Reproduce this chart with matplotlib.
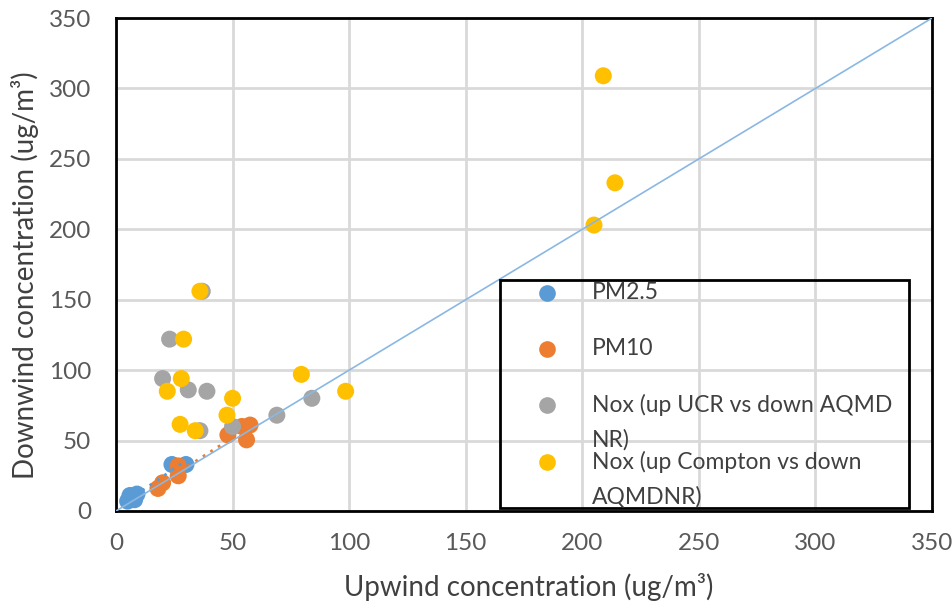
"""Upwind vs downwind concentration scatter (PM2.5, PM10, NOx) with 1:1 line."""

import numpy as np
import matplotlib
matplotlib.use("Agg")
import matplotlib.pyplot as plt
from matplotlib.lines import Line2D
from matplotlib.patches import Rectangle

plt.rcParams["font.family"] = ["Lato", "DejaVu Sans"]

# ---- data ----
pm25_up = [5, 8, 6, 9, 7, 24, 30]
pm25_down = [7, 8, 11, 12, 9, 33, 33]

pm10_up = [18, 20, 26.7, 26.7, 48, 54, 57.5, 56]
pm10_down = [16, 20, 25, 32, 54, 60, 61, 50.5]

nox_ucr_up = [37, 23, 20, 31, 39, 36, 50, 69, 84]
nox_ucr_down = [156, 122, 94, 86, 85, 57, 60, 68, 80]

nox_cmp_up = [36, 29, 28, 22, 27.5, 34, 47.6, 50, 79.5, 98.5, 205, 209, 214]
nox_cmp_down = [156, 122, 94, 85, 61.5, 57, 68, 80, 97, 85, 203, 309, 233]

one_to_one = [0, 350]
ticks = [0, 50, 100, 150, 200, 250, 300, 350]

labels = ["PM2.5", "PM10", "Nox (up UCR vs down AQMD\nNR)",
          "Nox (up Compton vs down\nAQMDNR)"]
colors = ["#5B9BD5", "#ED7D31", "#A5A5A5", "#FFC000"]

fig = plt.figure(figsize=(9.53, 6.03), dpi=100)
ax = fig.add_axes([0.1217, 0.1526, 0.8563, 0.8175])

ms = 150
series = [(pm25_up, pm25_down), (pm10_up, pm10_down),
          (nox_ucr_up, nox_ucr_down), (nox_cmp_up, nox_cmp_down)]
for (xs, ys), c in zip(series, colors):
    ax.scatter(xs, ys, s=ms, color=c, edgecolors="none", zorder=3)

# dotted linear trendlines for PM2.5 and PM10
for (xs, ys), c in zip(series[:2], colors[:2]):
    k, b = np.polyfit(xs, ys, 1)
    xx = np.array([min(xs), max(xs)])
    ax.plot(xx, k * xx + b, color=c, lw=2, ls=(0, (1, 2.2)), zorder=4)

ax.plot(one_to_one, one_to_one, color="#8AB8E3", lw=1.2, zorder=5)

ax.set_xlim(0, 350)
ax.set_ylim(0, 350)
ax.set_xticks(ticks)
ax.set_yticks(ticks)
ax.grid(True, color="#D9D9D9", lw=2, zorder=0)
ax.set_axisbelow(True)
for sp in ax.spines.values():
    sp.set_color("black")
    sp.set_linewidth(2)
ax.tick_params(axis="both", length=0, labelsize=17.5, labelcolor="#595959")
ax.tick_params(axis="x", pad=16)
ax.tick_params(axis="y", pad=18)
ax.set_xlabel("Upwind concentration (ug/m³)", fontsize=20, color="#404040", va="top")
ax.set_ylabel("Downwind concentration (ug/m³)", fontsize=20, color="#404040")
ax.xaxis.set_label_coords(0.506, -0.126)
ax.yaxis.set_label_coords(-0.094, 0.479)

# legend box drawn by hand to match the spreadsheet layout
ax.add_patch(Rectangle((0.4706, 0.006), 0.5014, 0.4626, transform=ax.transAxes,
                       facecolor="none", edgecolor="black", lw=2, zorder=6))
entry_y = [0.4422, 0.3286, 0.2150, 0.0994]
line_step = 0.070
for lab, c, yy in zip(labels, colors, entry_y):
    ax.add_line(Line2D([0.528], [yy], transform=ax.transAxes, marker="o", ms=12,
                       color=c, mec="none", ls="none", zorder=7, clip_on=False))
    for i, part in enumerate(lab.split("\n")):
        ax.text(0.583, yy - i * line_step, part, transform=ax.transAxes,
                fontsize=16.5, color="#404040", va="center", zorder=7)

fig.savefig("out.png", dpi=100)
